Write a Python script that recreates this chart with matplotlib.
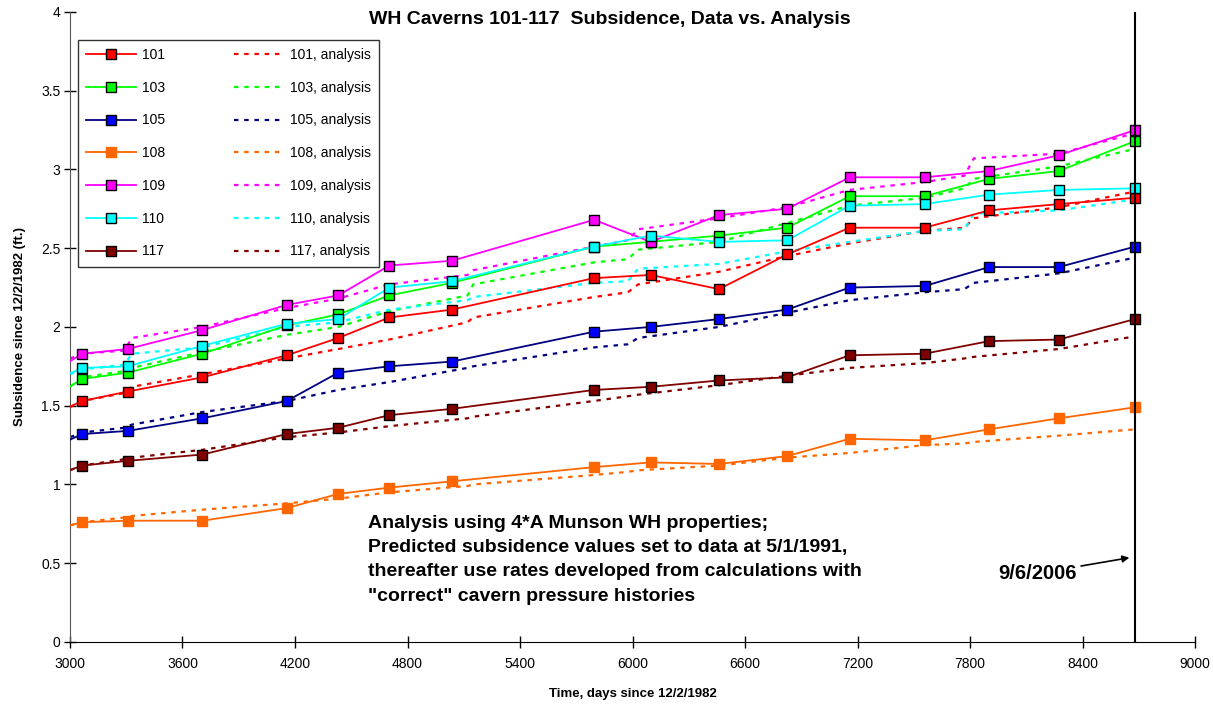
import matplotlib
matplotlib.use('Agg')
import matplotlib.pyplot as plt
from matplotlib.ticker import FormatStrFormatter

plt.rcParams['font.family'] = ['Liberation Sans', 'DejaVu Sans']

# Data
days = [2900, 3066, 3308, 3706, 4156, 4431, 4703, 5037, 5795, 6097, 6461, 6825, 7158, 7558, 7902, 8274, 8680]
data = {
    '101': [1.44, 1.53, 1.59, 1.68, 1.82, 1.93, 2.06, 2.11, 2.31, 2.33, 2.24, 2.46, 2.63, 2.63, 2.74, 2.78, 2.82],
    '103': [1.55, 1.67, 1.71, 1.83, 2.01, 2.08, 2.20, 2.28, 2.51, 2.54, 2.58, 2.63, 2.83, 2.83, 2.94, 2.99, 3.18],
    '105': [1.23, 1.32, 1.34, 1.42, 1.53, 1.71, 1.75, 1.78, 1.97, 2.00, 2.05, 2.11, 2.25, 2.26, 2.38, 2.38, 2.51],
    '108': [0.71, 0.76, 0.77, 0.77, 0.85, 0.94, 0.98, 1.02, 1.11, 1.14, 1.13, 1.18, 1.29, 1.28, 1.35, 1.42, 1.49],
    '109': [1.71, 1.83, 1.86, 1.98, 2.14, 2.20, 2.39, 2.42, 2.68, 2.54, 2.71, 2.75, 2.95, 2.95, 2.99, 3.09, 3.25],
    '110': [1.65, 1.74, 1.75, 1.88, 2.02, 2.05, 2.25, 2.29, 2.51, 2.58, 2.54, 2.55, 2.77, 2.78, 2.84, 2.87, 2.88],
    '117': [1.05, 1.12, 1.15, 1.19, 1.32, 1.36, 1.44, 1.48, 1.60, 1.62, 1.66, 1.68, 1.82, 1.83, 1.91, 1.92, 2.05],
}

a_days = [3000, 3066, 3290, 3330, 3706, 4156, 4431, 4703, 5120, 5150, 5795, 5975, 6030,
          6461, 6825, 7158, 7558, 7770, 7820, 8274, 8680]
analysis = {
    '101': [1.49, 1.53, 1.58, 1.62, 1.70, 1.80, 1.86, 1.92, 2.03, 2.06, 2.19, 2.22, 2.27,
            2.35, 2.45, 2.53, 2.61, 2.63, 2.69, 2.76, 2.86],
    '103': [1.62, 1.68, 1.72, 1.74, 1.84, 1.95, 2.00, 2.10, 2.20, 2.27, 2.41, 2.43, 2.49,
            2.54, 2.66, 2.77, 2.82, 2.88, 2.94, 3.02, 3.13],
    '105': [1.30, 1.33, 1.36, 1.38, 1.46, 1.53, 1.60, 1.65, 1.74, 1.75, 1.87, 1.89, 1.93,
            2.00, 2.09, 2.17, 2.22, 2.24, 2.28, 2.34, 2.44],
    '108': [0.74, 0.76, 0.79, 0.80, 0.84, 0.88, 0.91, 0.95, 0.99, 1.00, 1.06, 1.08, 1.09,
            1.12, 1.17, 1.20, 1.25, 1.26, 1.27, 1.31, 1.35],
    '109': [1.80, 1.83, 1.85, 1.93, 2.00, 2.12, 2.18, 2.27, 2.33, 2.36, 2.51, 2.55, 2.62,
            2.69, 2.76, 2.87, 2.92, 2.96, 3.07, 3.10, 3.23],
    '110': [1.70, 1.73, 1.76, 1.83, 1.87, 2.00, 2.03, 2.11, 2.17, 2.19, 2.28, 2.29, 2.37,
            2.40, 2.48, 2.54, 2.61, 2.62, 2.72, 2.74, 2.81],
    '117': [1.09, 1.12, 1.16, 1.17, 1.22, 1.30, 1.33, 1.37, 1.42, 1.43, 1.53, 1.56, 1.57,
            1.63, 1.69, 1.74, 1.77, 1.80, 1.81, 1.86, 1.94],
}

line_colors = {'101': '#FF0000', '103': '#00FF00', '105': '#000080', '108': '#FF6600',
               '109': '#FF00FF', '110': '#00FFFF', '117': '#800000'}
face_colors = {'101': '#FF0000', '103': '#00FF00', '105': '#0000FF', '108': '#FF6600',
               '109': '#FF00FF', '110': '#00FFFF', '117': '#800000'}

x_ticks = list(range(3000, 9001, 600))
y_ticks = [0, 0.5, 1, 1.5, 2, 2.5, 3, 3.5, 4]
date_line = 8680

# Layout
fig = plt.figure(figsize=(12.13, 7.04), dpi=100)
ax = fig.add_axes([0.0577, 0.0881, 0.9275, 0.895])

# Plot
for k, v in data.items():
    edge = line_colors[k] if k == '108' else 'black'
    ax.plot(days, v, '-', color=line_colors[k], lw=1.3, marker='s', ms=7.5,
            mfc=face_colors[k], mec=edge, mew=1.0, label=k, zorder=3)
for k, v in analysis.items():
    ax.plot(a_days, v, color=line_colors[k], lw=1.6, ls=(0, (2, 2.6)),
            label=f'{k}, analysis', zorder=2)

ax.axvline(date_line, color='black', lw=1.5, zorder=4)

# Details
ax.set_xlim(3000, 9000)
ax.set_ylim(0, 4)
ax.set_xticks(x_ticks)
ax.set_yticks(y_ticks)
ax.yaxis.set_major_formatter(FormatStrFormatter('%g'))
ax.tick_params(direction='inout', length=8, width=1, labelsize=10)
ax.tick_params(axis='x', pad=7)
ax.tick_params(axis='y', pad=3)
ax.spines['top'].set_visible(False)
ax.spines['right'].set_visible(False)
ax.spines['left'].set_color('#555555')
ax.set_xlabel('Time, days since 12/2/1982', fontsize=9.5, fontweight='bold', labelpad=12)
ax.set_ylabel('Subsidence since 12/2/1982 (ft.)', fontsize=9.5, fontweight='bold', labelpad=11)

fig.text(0.503, 0.972, 'WH Caverns 101-117  Subsidence, Data vs. Analysis',
         ha='center', va='center', fontsize=14, fontweight='bold')

ax.text(4590, 0.805, 'Analysis using 4*A Munson WH properties;\n'
        'Predicted subsidence values set to data at 5/1/1991,\n'
        'thereafter use rates developed from calculations with\n'
        '"correct" cavern pressure histories',
        fontsize=14, fontweight='bold', va='top', ha='left', linespacing=1.55)

ax.annotate('9/6/2006', xy=(8650, 0.535), xytext=(8370, 0.435),
            ha='right', va='center', fontsize=14.5, fontweight='bold',
            arrowprops=dict(arrowstyle='-|>', color='black', lw=1.2, mutation_scale=10,
                            shrinkA=1, shrinkB=0))

leg = ax.legend(ncol=2, loc='upper left', bbox_to_anchor=(0.007, 0.956), borderaxespad=0,
                fontsize=10, frameon=True, fancybox=False, edgecolor='black',
                handlelength=3.6, labelspacing=1.35, columnspacing=5.0, borderpad=0.6,
                handletextpad=0.4)
leg.get_frame().set_linewidth(1.0)

# Save
fig.savefig('out.png', dpi=100)
